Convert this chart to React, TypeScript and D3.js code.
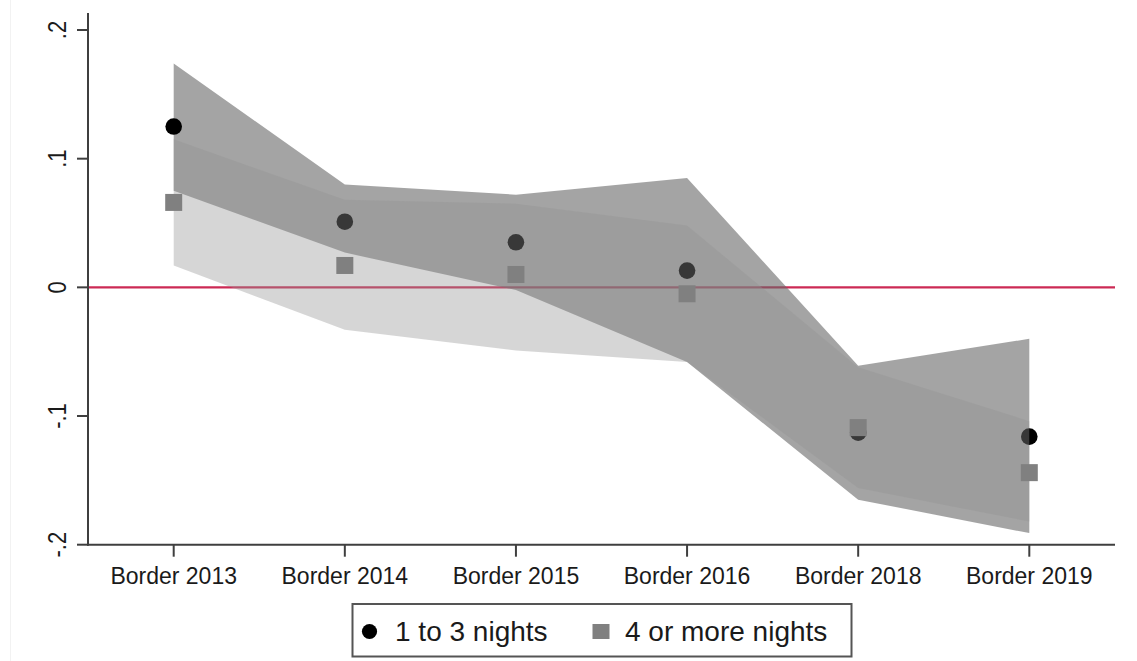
import React from "react";
import * as d3 from "d3";

const categories = ["Border 2013", "Border 2014", "Border 2015", "Border 2016", "Border 2018", "Border 2019"];
const nights13 = [0.125, 0.051, 0.035, 0.013, -0.113, -0.116];
const lo13 = [0.075, 0.027, -0.002, -0.058, -0.165, -0.191];
const hi13 = [0.174, 0.080, 0.072, 0.085, -0.061, -0.040];
const nights4 = [0.066, 0.017, 0.010, -0.005, -0.109, -0.144];
const lo4 = [0.017, -0.033, -0.049, -0.058, -0.156, -0.182];
const hi4 = [0.115, 0.068, 0.065, 0.048, -0.062, -0.104];
const yTicks = [-0.2, -0.1, 0, 0.1, 0.2];
const yTickLabels = ["-.2", "-.1", "0", ".1", ".2"];
const legendLabels = ["1 to 3 nights", "4 or more nights"];

const W = 1137;
const H = 661;
const FONT = "'Liberation Sans', Arial, sans-serif";

export default function App() {
  const x = d3.scalePoint<string>().domain(categories).range([173.7, 1029.3]);
  const y = d3.scaleLinear().domain([-0.2, 0.2]).range([544.7, 30]);
  const axisLeft = 88;
  const axisRight = 1115;
  const axisTop = 13;
  const axisBottom = y(-0.2);

  const area = (lo: number[], hi: number[]) =>
    d3
      .area<number>()
      .x((_, i) => x(categories[i]) as number)
      .y0((_, i) => y(lo[i]))
      .y1((_, i) => y(hi[i]))(categories.map((_, i) => i)) as string;

  const sq = 17;
  const axisColor = "#3f3f3f";
  const textColor = "#1a1a1a";

  return (
    <div style={{ position: "absolute", left: 0, top: 0 }}>
      <svg width={W} height={H} style={{ display: "block", background: "#fff" }}>
        <line x1={10.5} x2={10.5} y1={0} y2={H} stroke="#f2f2f2" strokeWidth={1} />
        {/* zero line */}
        <line x1={axisLeft} x2={axisRight} y1={y(0)} y2={y(0)} stroke="#cc2a55" strokeWidth={2.2} />
        {/* band 1 to 3 nights */}
        <path d={area(lo13, hi13)} fill="#676767" fillOpacity={0.6} />
        {nights13.map((v, i) => (
          <circle key={"c" + i} cx={x(categories[i])} cy={y(v)} r={8.3} fill="#000" />
        ))}
        {/* band 4 or more */}
        <path d={area(lo4, hi4)} fill="#939393" fillOpacity={0.38} />
        {nights4.map((v, i) => (
          <rect
            key={"s" + i}
            x={(x(categories[i]) as number) - sq / 2}
            y={y(v) - sq / 2}
            width={sq}
            height={sq}
            fill="#808080"
          />
        ))}
        {/* axes */}
        <line x1={axisLeft} x2={axisLeft} y1={axisTop} y2={axisBottom + 1} stroke={axisColor} strokeWidth={2} />
        <line x1={axisLeft - 1} x2={axisRight} y1={axisBottom} y2={axisBottom} stroke={axisColor} strokeWidth={2} />
        {yTicks.map((t, i) => (
          <g key={"yt" + i}>
            <line x1={axisLeft - 11} x2={axisLeft} y1={y(t)} y2={y(t)} stroke={axisColor} strokeWidth={2} />
            <text
              transform={`translate(66,${y(t)}) rotate(-90) scale(1,1.2)`}
              textAnchor="middle"
              fontFamily={FONT}
              fontSize={22}
              fill={textColor}
            >
              {yTickLabels[i]}
            </text>
          </g>
        ))}
        {categories.map((c) => (
          <g key={c}>
            <line x1={x(c)} x2={x(c)} y1={axisBottom} y2={axisBottom + 12} stroke={axisColor} strokeWidth={2} />
            <text x={x(c)} y={583.5} textAnchor="middle" fontFamily={FONT} fontSize={23} fill={textColor}>
              {c}
            </text>
          </g>
        ))}
        {/* legend */}
        <rect x={352.5} y={604} width={499} height={52.5} fill="#fff" stroke="#555" strokeWidth={2} />
        <circle cx={369.5} cy={631.5} r={7.6} fill="#000" />
        <text x={395} y={641} fontFamily={FONT} fontSize={28} fill={textColor}>
          {legendLabels[0]}
        </text>
        <rect x={592.5} y={624} width={17} height={15} fill="#808080" />
        <text x={625} y={641} fontFamily={FONT} fontSize={28} fill={textColor}>
          {legendLabels[1]}
        </text>
      </svg>
    </div>
  );
}
